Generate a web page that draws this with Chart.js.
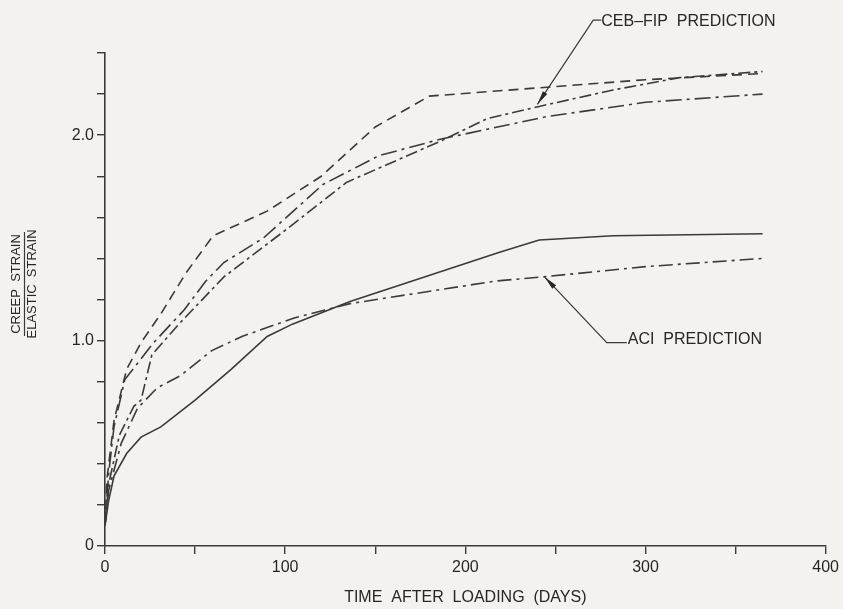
<!DOCTYPE html>
<html>
<head>
<meta charset="utf-8">
<script src="https://cdn.jsdelivr.net/npm/chart.js@4.4.1/dist/chart.umd.min.js"></script>
<style>
    html, body { margin: 0; padding: 0; background: #f4f2ef; }
    #wrap { width: 843px; height: 609px; }
</style>
</head>
<body>
<div id="wrap"><canvas id="creepChart" width="843" height="609"></canvas></div>
<script>
// values (days, creep / elastic strain)
const daysTopDashed = [0, 1, 5, 12, 20, 31, 45, 60, 90, 120, 150, 180, 240, 300, 365];
const ratioTopDashed = [0.1, 0.32, 0.61, 0.86, 0.99, 1.13, 1.33, 1.51, 1.63, 1.80, 2.04, 2.19, 2.23, 2.27, 2.30];

const daysLongDash = [0, 2, 5, 11, 27, 44, 56, 66, 88, 121, 152, 186, 245, 300, 365];
const ratioLongDash = [0.1, 0.35, 0.58, 0.81, 0.99, 1.15, 1.29, 1.38, 1.50, 1.76, 1.90, 1.98, 2.09, 2.16, 2.20];

const daysCebFip = [0, 2, 8, 16, 20, 26, 41, 66, 102, 134, 186, 212, 241, 282, 319, 365];
const ratioCebFip = [0.1, 0.30, 0.54, 0.68, 0.71, 0.93, 1.08, 1.31, 1.55, 1.77, 1.97, 2.08, 2.14, 2.22, 2.28, 2.31];

const daysSolid = [0, 2, 5, 12, 20, 31, 50, 70, 90, 104, 136, 219, 241, 282, 365];
const ratioSolid = [0.1, 0.22, 0.34, 0.45, 0.53, 0.58, 0.71, 0.86, 1.02, 1.08, 1.19, 1.43, 1.49, 1.51, 1.52];

const daysAci = [0, 2, 9, 18, 29, 42, 59, 76, 105, 136, 217, 243, 300, 365];
const ratioAci = [0.1, 0.27, 0.50, 0.67, 0.77, 0.83, 0.95, 1.02, 1.11, 1.18, 1.29, 1.31, 1.36, 1.40];

const xTicksLabelled = [0, 100, 200, 300, 400];
const yTickText = { 0: '0', 1: '1.0', 2: '2.0' };

(function () {
    const canvas = document.getElementById('creepChart');
    if (!canvas || typeof Chart === 'undefined') {
        return;
    }

    const ink = '#3a3a3a';
    const textInk = '#262626';
    const fontFamily = '"Liberation Sans", Arial, sans-serif';

    function toPoints(days, values) {
        return days.map(function (d, i) {
            return { x: d, y: values[i] };
        });
    }

    function curve(days, values, dash) {
        return {
            data: toPoints(days, values),
            showLine: true,
            borderColor: ink,
            borderWidth: 1.6,
            borderDash: dash,
            pointRadius: 0,
            tension: 0,
            fill: false
        };
    }

    function arrowHead(ctx, from, tip) {
        const ang = Math.atan2(tip.y - from.y, tip.x - from.x);
        const len = 14;
        const half = 2.6;
        ctx.beginPath();
        ctx.moveTo(tip.x, tip.y);
        ctx.lineTo(tip.x - len * Math.cos(ang) + half * Math.sin(ang), tip.y - len * Math.sin(ang) - half * Math.cos(ang));
        ctx.lineTo(tip.x - len * Math.cos(ang) - half * Math.sin(ang), tip.y - len * Math.sin(ang) + half * Math.cos(ang));
        ctx.closePath();
        ctx.fill();
    }

    // leader lines, labels and the fraction on the y axis
    const decorations = {
        id: 'decorations',
        afterDraw: function (chart) {
            const ctx = chart.ctx;
            const xs = chart.scales.x;
            const ys = chart.scales.y;

            ctx.save();
            ctx.strokeStyle = ink;
            ctx.fillStyle = textInk;
            ctx.lineWidth = 1.2;
            ctx.font = '16px ' + fontFamily;
            ctx.textBaseline = 'middle';
            ctx.textAlign = 'left';

            // CEB-FIP
            let tip = { x: xs.getPixelForValue(240), y: ys.getPixelForValue(2.15) };
            let elbow = { x: xs.getPixelForValue(271), y: ys.getPixelForValue(2.56) };
            ctx.beginPath();
            ctx.moveTo(tip.x, tip.y);
            ctx.lineTo(elbow.x, elbow.y);
            ctx.lineTo(elbow.x + 8, elbow.y);
            ctx.stroke();
            arrowHead(ctx, elbow, tip);
            ctx.fillText('CEB\u2013FIP  PREDICTION', elbow.x + 8, elbow.y + 1);

            // ACI
            tip = { x: xs.getPixelForValue(244), y: ys.getPixelForValue(1.31) };
            elbow = { x: xs.getPixelForValue(278.5), y: ys.getPixelForValue(0.99) };
            ctx.beginPath();
            ctx.moveTo(tip.x, tip.y);
            ctx.lineTo(elbow.x, elbow.y);
            ctx.lineTo(elbow.x + 20, elbow.y);
            ctx.stroke();
            arrowHead(ctx, elbow, tip);
            ctx.fillText('ACI  PREDICTION', elbow.x + 21, elbow.y - 3);

            // y axis title as a fraction
            ctx.translate(24, 284);
            ctx.rotate(-Math.PI / 2);
            ctx.font = '13px ' + fontFamily;
            ctx.textAlign = 'center';
            ctx.textBaseline = 'bottom';
            ctx.fillText('CREEP  STRAIN', 0, -1);
            ctx.textBaseline = 'top';
            ctx.fillText('ELASTIC  STRAIN', 0, 2);
            ctx.lineWidth = 1.2;
            ctx.beginPath();
            ctx.moveTo(-52, 0.5);
            ctx.lineTo(52, 0.5);
            ctx.stroke();
            ctx.restore();
        }
    };

    new Chart(canvas, {
        type: 'scatter',
        data: {
            datasets: [
                curve(daysTopDashed, ratioTopDashed, [10, 6]),
                curve(daysLongDash, ratioLongDash, [16, 5, 3, 5]),
                curve(daysCebFip, ratioCebFip, [12, 4, 3, 4]),
                curve(daysSolid, ratioSolid, []),
                curve(daysAci, ratioAci, [14, 5, 3, 5])
            ]
        },
        options: {
            responsive: false,
            animation: false,
            layout: { padding: { top: 53, right: 17, left: 0, bottom: 0 } },
            plugins: {
                legend: { display: false },
                tooltip: { enabled: false }
            },
            scales: {
                x: {
                    type: 'linear',
                    min: 0,
                    max: 400,
                    afterFit: function (scale) { scale.height = 63; },
                    border: { display: true, color: ink, width: 1.6 },
                    grid: { drawOnChartArea: false, drawTicks: true, tickLength: 8, color: ink, lineWidth: 1.4 },
                    ticks: {
                        stepSize: 50,
                        autoSkip: false,
                        maxRotation: 0,
                        padding: 4,
                        color: textInk,
                        font: { family: fontFamily, size: 16 },
                        callback: function (value) {
                            return xTicksLabelled.includes(value) ? String(value) : '';
                        }
                    },
                    title: {
                        display: true,
                        text: 'TIME  AFTER  LOADING  (DAYS)',
                        color: textInk,
                        font: { family: fontFamily, size: 16 },
                        padding: { top: 0, bottom: 2 }
                    }
                },
                y: {
                    min: 0,
                    max: 2.4,
                    afterFit: function (scale) { scale.width = 105; },
                    border: { display: true, color: ink, width: 1.6 },
                    grid: { drawOnChartArea: false, drawTicks: true, tickLength: 8, color: ink, lineWidth: 1.4 },
                    ticks: {
                        stepSize: 0.2,
                        autoSkip: false,
                        padding: 3,
                        color: textInk,
                        font: { family: fontFamily, size: 16 },
                        callback: function (value) {
                            const key = Math.round(value * 10) / 10;
                            return yTickText[key] !== undefined ? yTickText[key] : '';
                        }
                    }
                }
            }
        },
        plugins: [decorations]
    });
})();
</script>
</body>
</html>
